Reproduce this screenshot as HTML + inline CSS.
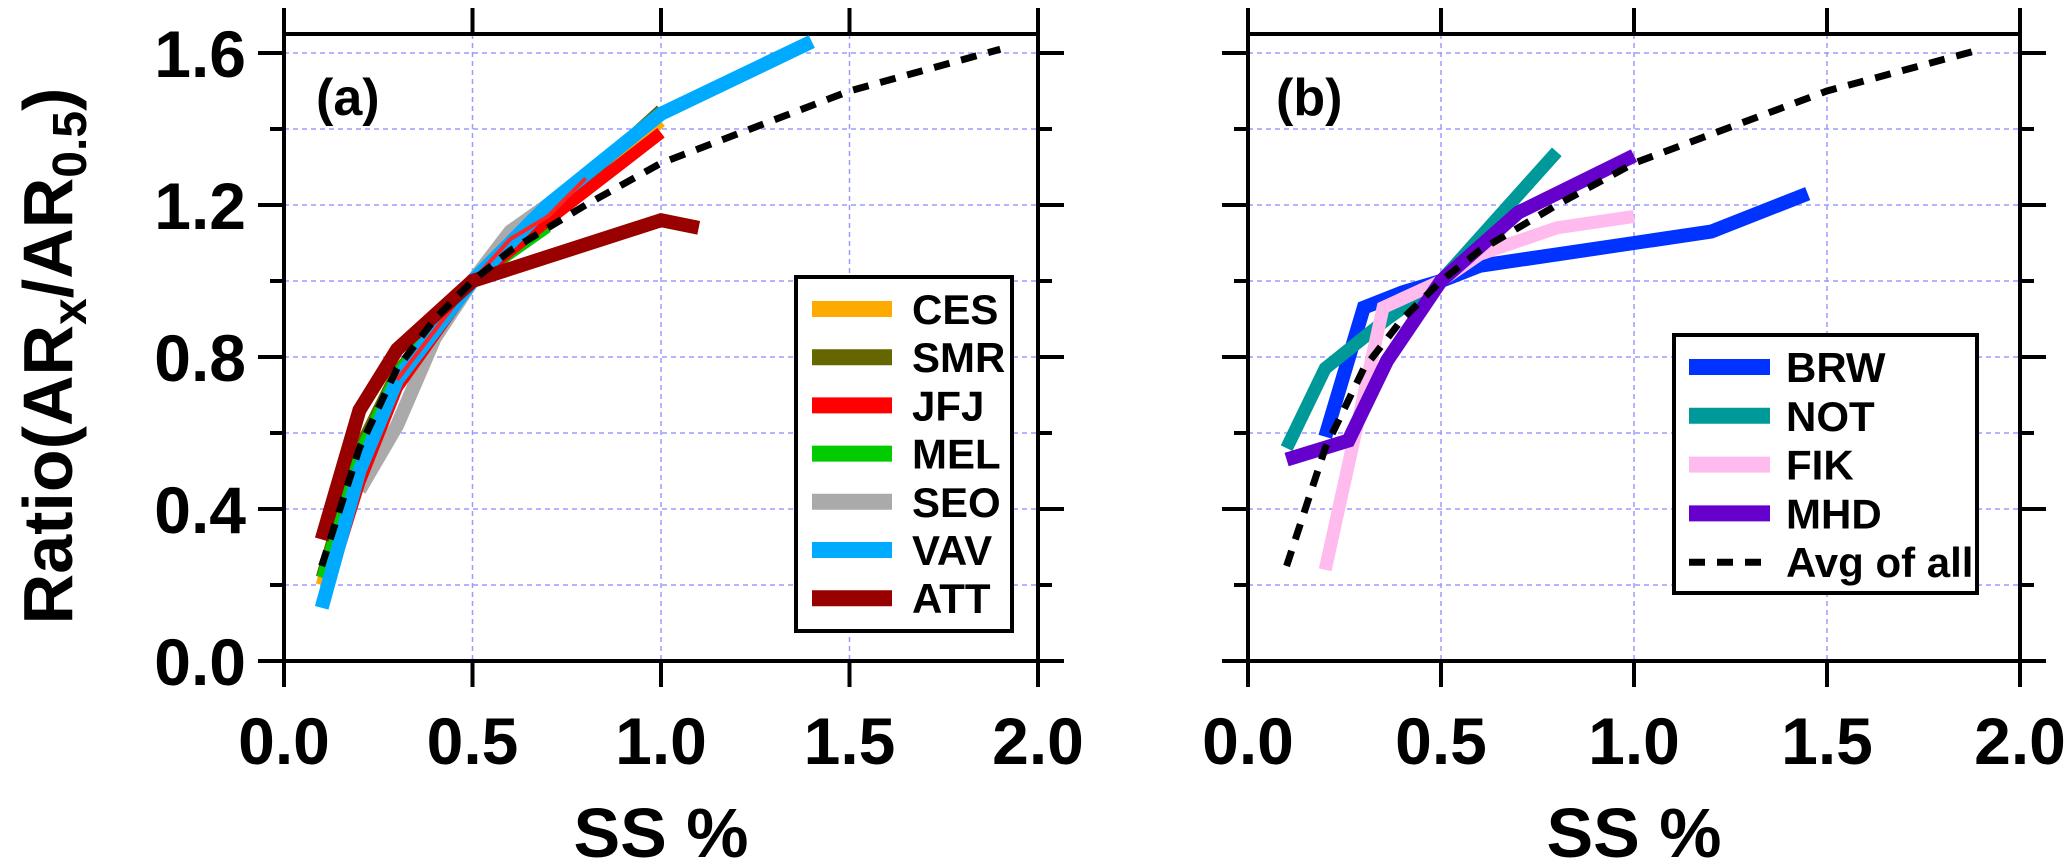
<!DOCTYPE html>
<html><head><meta charset="utf-8"><style>
html,body{margin:0;padding:0;background:#fff;}
svg{display:block;font-family:"Liberation Sans",sans-serif;font-weight:bold;}
</style></head><body>
<svg id="chart" width="2067" height="868" viewBox="0 0 2067 868" xmlns="http://www.w3.org/2000/svg"></svg>
<script>
// ---- data ----
const xTicks = [0.0, 0.5, 1.0, 1.5, 2.0];
const xTickLabels = ["0.0", "0.5", "1.0", "1.5", "2.0"];
const yTicks = [0.0, 0.4, 0.8, 1.2, 1.6];
const yTickLabels = ["0.0", "0.4", "0.8", "1.2", "1.6"];
const yMinorTicks = [0.2, 0.6, 1.0, 1.4];

const cesX = [0.1, 0.2, 0.3, 0.5, 0.6, 0.7, 1.0];
const cesY = [0.2, 0.55, 0.75, 1.0, 1.1, 1.17, 1.42];
const smrX = [0.1, 0.2, 0.3, 0.5, 0.6, 0.7, 1.0];
const smrY = [0.22, 0.56, 0.76, 1.0, 1.1, 1.18, 1.45];
const jfjX = [0.1, 0.2, 0.3, 0.5, 0.6, 0.7, 1.0];
const jfjY = [0.15, 0.47, 0.72, 1.0, 1.08, 1.16, 1.39];
const jfj2X = [0.3, 0.5, 0.6, 0.7, 0.8];
const jfj2Y = [0.74, 1.0, 1.11, 1.17, 1.27];
const melX = [0.1, 0.2, 0.3, 0.5, 0.6, 0.7];
const melY = [0.22, 0.55, 0.76, 1.0, 1.07, 1.14];
const seoX = [0.2, 0.3, 0.4, 0.5, 0.6, 0.7];
const seoY = [0.45, 0.62, 0.85, 1.0, 1.13, 1.2];
const vavX = [0.1, 0.2, 0.3, 0.5, 0.6, 0.7, 1.0, 1.4];
const vavY = [0.14, 0.5, 0.74, 1.0, 1.1, 1.2, 1.44, 1.63];
const attX = [0.1, 0.2, 0.3, 0.5, 1.0, 1.1];
const attY = [0.32, 0.66, 0.82, 1.0, 1.16, 1.14];

const brwX = [0.2, 0.3, 0.4, 0.5, 0.6, 0.8, 1.0, 1.2, 1.45];
const brwY = [0.59, 0.93, 0.97, 1.0, 1.04, 1.07, 1.1, 1.13, 1.23];
const notX = [0.1, 0.2, 0.36, 0.5, 0.8];
const notY = [0.56, 0.77, 0.9, 1.0, 1.34];
const fikX = [0.2, 0.35, 0.5, 0.6, 0.8, 1.0];
const fikY = [0.24, 0.93, 1.0, 1.07, 1.14, 1.17];
const mhdX = [0.1, 0.26, 0.36, 0.5, 0.7, 1.0];
const mhdY = [0.53, 0.58, 0.79, 1.0, 1.18, 1.33];
const avgX = [0.1, 0.2, 0.3, 0.4, 0.5, 0.6, 0.8, 1.0, 1.5, 1.9];
const avgY = [0.25, 0.56, 0.77, 0.9, 1.0, 1.08, 1.2, 1.31, 1.5, 1.61];

const NS = "http://www.w3.org/2000/svg";
const svg = document.getElementById("chart");
function mk(tag, attrs, parent) {
  const e = document.createElementNS(NS, tag);
  for (const k in attrs) e.setAttribute(k, attrs[k]);
  (parent || svg).appendChild(e);
  return e;
}

const panels = [
  {left: 284, right: 1038, label: "(a)", labelX: 316, key: "a"},
  {left: 1248, right: 2020, label: "(b)", labelX: 1276, key: "b"}
];
const Y0 = 661, YU = 380, TOP = 34;
function yS(v) { return Y0 - YU * v; }
function xSfor(p) { const u = (p.right - p.left) / 2; return v => p.left + u * v; }

panels.forEach(p => {
  const xS = xSfor(p);
  const g = mk("g", {});
  
  
  // grid
  [0.5, 1.0, 1.5].forEach(v => {
    const l = mk("line", {x1: xS(v), x2: xS(v), y1: TOP, y2: Y0, stroke: "#9a9aff", "stroke-width": 1.5, "stroke-dasharray": "5,4"}, g);
    
    
  });
  [0.2, 0.4, 0.6, 0.8, 1.0, 1.2, 1.4, 1.6].forEach(v => {
    const l = mk("line", {x1: p.left, x2: p.right, y1: yS(v), y2: yS(v), stroke: "#9a9aff", "stroke-width": 1.5, "stroke-dasharray": "5,4"}, g);
    
    
  });
  // frame
  const ax = mk("path", {d: `M${p.left},${TOP} L${p.right},${TOP} M${p.left},${TOP} L${p.left},${Y0} M${p.right},${TOP} L${p.right},${Y0} M${p.left-26},${Y0} L${p.right+26},${Y0}`, stroke: "#000", "stroke-width": 4, fill: "none"}, g);
  
  
  // x ticks
  xTicks.forEach((v, i) => {
    const x = xS(v);
    mk("line", {x1: x, x2: x, y1: Y0, y2: Y0 + 26, stroke: "#000", "stroke-width": 4}, g);
    mk("line", {x1: x, x2: x, y1: TOP, y2: TOP - 26, stroke: "#000", "stroke-width": 4}, g);
    const t = mk("text", {x: x, y: 764, "font-size": 66, "text-anchor": "middle"}, g);
    t.textContent = xTickLabels[i];
    
    
  });
  // y ticks
  yTicks.forEach((v, i) => {
    const y = yS(v);
    mk("line", {x1: p.left - 26, x2: p.left, y1: y, y2: y, stroke: "#000", "stroke-width": 4}, g);
    mk("line", {x1: p.right, x2: p.right + 26, y1: y, y2: y, stroke: "#000", "stroke-width": 4}, g);
    if (p.key === "a") {
      const t = mk("text", {x: 246, y: y + 24, "font-size": 66, "text-anchor": "end"}, g);
      t.textContent = yTickLabels[i];
      
      
    }
  });
  yMinorTicks.forEach(v => {
    const y = yS(v);
    mk("line", {x1: p.left - 14, x2: p.left, y1: y, y2: y, stroke: "#000", "stroke-width": 4}, g);
    mk("line", {x1: p.right, x2: p.right + 14, y1: y, y2: y, stroke: "#000", "stroke-width": 4}, g);
  });
  const pl = mk("text", {x: p.labelX, y: 115, "font-size": 52}, g);
  pl.textContent = p.label;
  
  
  const xl = mk("text", {x: (p.left + p.right) / 2, y: 857, "font-size": 70, "text-anchor": "middle"}, g);
  xl.textContent = "SS %";
  
  
  p.xS = xS;
});

function series(p, xs, ys, color, w, name, dash) {
  const pts = xs.map((v, i) => p.xS(v).toFixed(1) + "," + yS(ys[i]).toFixed(1)).join(" ");
  const a = {points: pts, fill: "none", stroke: color, "stroke-width": w, "stroke-linejoin": "miter"};
  if (dash) a["stroke-dasharray"] = dash;
  const e = mk("polyline", a);
  
  
}
const A = panels[0], B = panels[1];
series(A, cesX, cesY, "#ffaa00", 12, "line-ces");
series(A, smrX, smrY, "#666600", 12, "line-smr");
series(A, seoX, seoY, "#aaaaaa", 14, "line-seo");
series(A, melX, melY, "#00cc00", 10, "line-mel");
series(A, jfjX, jfjY, "#ff0000", 12, "line-jfj");
series(A, vavX, vavY, "#00aaff", 14, "line-vav");
series(A, jfj2X, jfj2Y, "#ff2222", 4, "line-jfj-thin");
series(A, attX, attY, "#990000", 14, "line-att");
series(A, avgX, avgY, "#000", 7, "line-avg-a", "16,12");

series(B, brwX, brwY, "#0033ff", 14, "line-brw");
series(B, notX, notY, "#009999", 13, "line-not");
series(B, fikX, fikY, "#ffbbee", 13, "line-fik");
series(B, mhdX, mhdY, "#6600cc", 14, "line-mhd");
series(B, avgX, avgY, "#000", 7, "line-avg-b", "16,12");

// legends
function legend(x, y, w, h, entries, sw0, sw1, tx, y0, step, name) {
  const g = mk("g", {});
  
  
  mk("rect", {x: x, y: y, width: w, height: h, fill: "#fff", stroke: "#000", "stroke-width": 4}, g);
  entries.forEach((e, i) => {
    const yy = y0 + i * step;
    const a = {x1: sw0, x2: sw1, y1: yy, y2: yy, stroke: e[1], "stroke-width": e[2] ? 7 : 16};
    if (e[2]) a["stroke-dasharray"] = "16,12";
    const s = mk("line", a, g);
    
    
    const t = mk("text", {x: tx, y: yy + 15, "font-size": 42}, g);
    t.textContent = e[0];
    
    
  });
}
legend(796, 277, 216, 354, [["CES","#ffaa00"],["SMR","#666600"],["JFJ","#ff0000"],["MEL","#00cc00"],["SEO","#aaaaaa"],["VAV","#00aaff"],["ATT","#990000"]], 812, 892, 912, 309, 48.2, "legend-a");
legend(1674, 335, 303, 258, [["BRW","#0033ff"],["NOT","#009999"],["FIK","#ffbbee"],["MHD","#6600cc"],["Avg of all","#000",true]], 1689, 1770, 1786, 367, 48.8, "legend-b");

// y-axis title
const yt = mk("text", {x: 0, y: 0, "font-size": 70, "text-anchor": "middle", transform: "translate(72,356) rotate(-90)"});


yt.innerHTML = 'Ratio(AR<tspan font-size="48" dy="14">x</tspan><tspan dy="-14">/AR</tspan><tspan font-size="48" dy="14">0.5</tspan><tspan dy="-14">)</tspan>';
</script>
</body></html>
